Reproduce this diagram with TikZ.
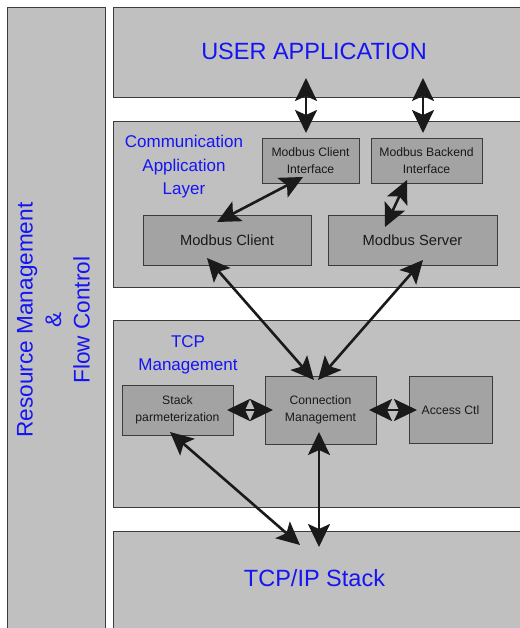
\documentclass[tikz,border=0pt]{standalone}
\usepackage{fontspec}
\setmainfont{Liberation Sans}
\usetikzlibrary{arrows.meta}
\definecolor{layergray}{HTML}{C0C0C0}
\definecolor{modgray}{HTML}{A3A3A3}
\definecolor{edgegray}{HTML}{3C3C3C}
\definecolor{titleblue}{HTML}{1414F5}
\definecolor{arrowblack}{HTML}{1A1A1A}
\tikzset{
  layer/.style={draw=edgegray, fill=layergray, line width=1pt, inner sep=0pt, outer sep=0pt},
  module/.style={draw=edgegray, fill=modgray, line width=0.8pt, inner sep=0pt, outer sep=0pt,
    align=center, text=black!90},
  smallmod/.style={module, font=\fontsize{12.2}{17}\selectfont},
  bigmod/.style={module, font=\fontsize{14.7}{18}\selectfont},
  title/.style={text=titleblue, inner sep=0pt, align=center},
  bigtitle/.style={title, font=\fontsize{23.5}{28}\selectfont},
  midtitle/.style={title, anchor=north, font=\fontsize{17}{23.5}\selectfont},
  link/.style={draw=arrowblack, line width=2.6pt,
    {Stealth[length=23pt,width=22pt,inset=5pt]}-{Stealth[length=23pt,width=22pt,inset=5pt]}},
}
\begin{document}
\begin{tikzpicture}[x=1pt, y=-1pt]
  \useasboundingbox (0,0) rectangle (519,628);
  % side column
  \node[layer, minimum width=98pt, minimum height=632pt] (res) at (56,324) {};
  \node[title, rotate=90, font=\fontsize{22.6}{28.5}\selectfont] (restext) at (53.5,320)
    {Resource Management\\\&\\Flow Control};
  % layers
  \node[layer, minimum width=412pt, minimum height=90pt] (user) at (319,53) {};
  \node[bigtitle] (usertext) at (314,51.5) {USER APPLICATION};
  \node[layer, minimum width=412pt, minimum height=165pt] (cal) at (319,204.5) {};
  \node[midtitle] (caltext) at (184,135) {Communication\\Application\\Layer};
  \node[layer, minimum width=412pt, minimum height=187pt] (tcpm) at (319,413.5) {};
  \node[midtitle] (tcpmtext) at (188,335) {TCP\\Management};
  \node[layer, minimum width=412pt, minimum height=109pt] (stack) at (319,585.5) {};
  \node[bigtitle] (stacktext) at (314.5,578) {TCP/IP Stack};
  % modules
  \node[smallmod, minimum width=97pt, minimum height=45pt] (mci) at (310.5,160.5) {Modbus Client\\Interface};
  \node[smallmod, minimum width=111pt, minimum height=45pt] (mbi) at (426.5,160.5) {Modbus Backend\\Interface};
  \node[bigmod, minimum width=168pt, minimum height=50pt] (mc) at (227,240) {Modbus Client};
  \node[bigmod, minimum width=169pt, minimum height=50pt] (ms) at (412.5,240) {Modbus Server};
  \node[smallmod, minimum width=111pt, minimum height=50pt] (sp) at (177.5,410) {Stack\\parmeterization};
  \node[smallmod, minimum width=111pt, minimum height=68pt] (cm) at (320.5,410) {Connection\\Management};
  \node[smallmod, minimum width=83pt, minimum height=67pt] (ac) at (450.5,410) {Access Ctl};
  % links
  \draw[link] ([shift={(-13pt,20pt)}]user.south) -- ([shift={(-4.5pt,5pt)}]mci.north);
  \draw[link] ([shift={(104pt,20pt)}]user.south) -- ([shift={(-3.5pt,5pt)}]mbi.north);
  \draw[link] ([shift={(-7.5pt,6pt)}]mci.south) -- ([shift={(-10pt,-7pt)}]mc.north);
  \draw[link] ([shift={(-19.5pt,3pt)}]mbi.south) -- ([shift={(-27.5pt,-12pt)}]ms.north);
  \draw[link] ([shift={(-20pt,7pt)}]mc.south) -- ([shift={(-6.5pt,-4pt)}]cm.north);
  \draw[link] ([shift={(10.5pt,5pt)}]ms.south) -- ([shift={(-2.5pt,-4pt)}]cm.north);
  \draw[link] ([xshift=-6pt]sp.east) -- ([xshift=8pt]cm.west);
  \draw[link] ([xshift=-7pt]cm.east) -- ([xshift=8pt]ac.west);
  \draw[link] ([shift={(-7.5pt,3pt)}]sp.south) -- ([shift={(-19pt,-14pt)}]stack.north);
  \draw[link] ([shift={(-1.5pt,12pt)}]cm.south) -- ([shift={(0pt,-16pt)}]stack.north);
\end{tikzpicture}
\end{document}
